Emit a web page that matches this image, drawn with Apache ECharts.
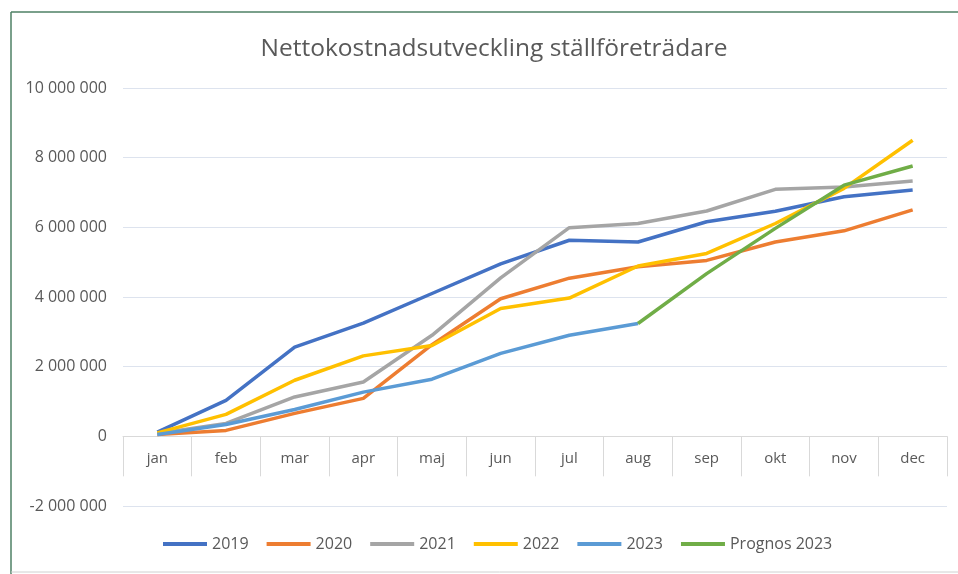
<!DOCTYPE html>
<html>
<head>
<meta charset="utf-8">
<title>Nettokostnadsutveckling ställföreträdare</title>
<script src="https://cdn.jsdelivr.net/npm/echarts@6/dist/echarts.min.js"></script>
<style>
  html, body { margin: 0; padding: 0; background: #fff; overflow: hidden; }
  /* diagrammet är lite bredare än fönstret, högerkanten är avskuren som i bilden */
  #main { width: 988px; height: 574px; }
</style>
</head>
<body>
<div id="main"></div>
<script>
// månader på x-axeln
var months = ['jan', 'feb', 'mar', 'apr', 'maj', 'jun', 'jul', 'aug', 'sep', 'okt', 'nov', 'dec'];

// ackumulerad nettokostnad per år
var y2019 = [120000, 1030000, 2560000, 3250000, 4100000, 4950000, 5630000, 5580000, 6160000, 6460000, 6880000, 7070000];
var y2020 = [50000, 170000, 660000, 1090000, 2630000, 3950000, 4540000, 4870000, 5050000, 5580000, 5900000, 6500000];
var y2021 = [80000, 370000, 1130000, 1560000, 2900000, 4550000, 5990000, 6110000, 6470000, 7090000, 7160000, 7330000];
var y2022 = [100000, 630000, 1610000, 2310000, 2610000, 3670000, 3970000, 4890000, 5250000, 6110000, 7120000, 8500000];
var y2023 = [50000, 340000, 770000, 1270000, 1640000, 2380000, 2900000, 3240000, null, null, null, null];
var prognos2023 = [null, null, null, null, null, null, null, 3240000, 4670000, 5970000, 7210000, 7760000];

var fontFam = '"Open Sans", "Noto Sans", sans-serif';
var grey = '#595959';

function fmt(v) {
    return String(v).replace(/\B(?=(\d{3})+(?!\d))/g, ' ');
}

function line(name, data, color) {
    return {
        name: name,
        type: 'line',
        data: data,
        showSymbol: false,
        symbol: 'none',
        connectNulls: false,
        lineStyle: { width: 3.5, color: color },
        itemStyle: { color: color }
    };
}

var myChart = echarts.init(document.getElementById('main'));
var option = {
    animation: false,
    title: {
        text: 'Nettokostnadsutveckling ställföreträdare',
        left: 'center',
        top: 32,
        textStyle: { fontFamily: fontFam, fontSize: 24.5, fontWeight: 'normal', color: grey }
    },
    legend: {
        top: 531,
        left: 158,
        icon: 'rect',
        itemWidth: 44,
        itemHeight: 4,
        itemGap: 18,
        textStyle: { fontFamily: fontFam, fontSize: 16, color: grey }
    },
    grid: { left: 123, right: 41, top: 88, bottom: 68 },
    xAxis: {
        type: 'category',
        data: months,
        boundaryGap: true,
        axisLine: { onZero: true, lineStyle: { color: '#d9d9d9', width: 1 } },
        axisTick: { show: true, length: 40, interval: 0, lineStyle: { color: '#d9d9d9' } },
        // etiketterna hamnar annars vid gridets underkant, flytta upp dem till nollinjen
        axisLabel: { margin: -55, fontFamily: fontFam, fontSize: 15, color: grey }
    },
    yAxis: {
        type: 'value',
        min: -2000000,
        max: 10000000,
        interval: 2000000,
        axisLine: { show: false },
        axisTick: { show: false },
        axisLabel: { margin: 16, fontFamily: fontFam, fontSize: 16, color: grey, formatter: fmt },
        splitLine: { lineStyle: { color: '#dde3ee', width: 1 } }
    },
    graphic: [
        { type: 'line', shape: { x1: 11, y1: 12, x2: 988, y2: 12 }, style: { stroke: '#4e8064', lineWidth: 1.5 } },
        { type: 'line', shape: { x1: 11, y1: 12, x2: 11, y2: 574 }, style: { stroke: '#4e8064', lineWidth: 1.5 } },
        { type: 'line', shape: { x1: 11, y1: 572, x2: 988, y2: 572 }, style: { stroke: '#d0d0d0', lineWidth: 1 } }
    ],
    series: [
        line('2019', y2019, '#4472C4'),
        line('2020', y2020, '#ED7D31'),
        line('2021', y2021, '#A5A5A5'),
        line('2022', y2022, '#FFC000'),
        line('2023', y2023, '#5B9BD5'),
        line('Prognos 2023', prognos2023, '#70AD47')
    ]
};
myChart.setOption(option);
</script>
</body>
</html>
